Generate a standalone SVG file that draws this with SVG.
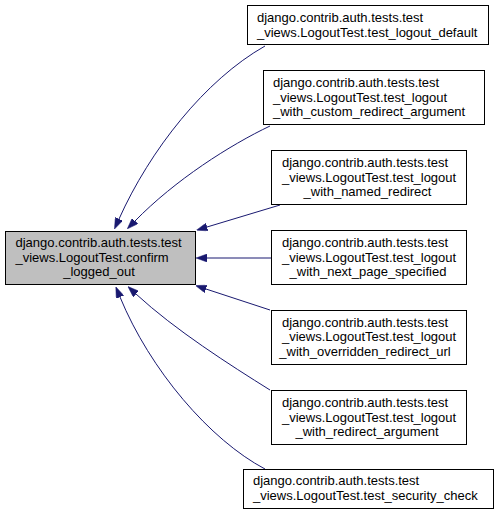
<svg xmlns="http://www.w3.org/2000/svg" width="499" height="516" viewBox="0 0 499 516">
<style>
.box{fill:#ffffff;stroke:#000000;stroke-width:1}
.main{fill:#bfbfbf;stroke:#000000;stroke-width:1}
text{font-family:"Liberation Sans",Arial,sans-serif;font-size:13px;fill:#000000}
.m{text-anchor:middle}
.edge{fill:none;stroke:#191970;stroke-width:1}
</style>
<defs>
<marker id="ah" viewBox="0 0 11 8" refX="0" refY="4" markerWidth="11" markerHeight="8" markerUnits="userSpaceOnUse" orient="auto">
<path d="M0,0 L11,4 L0,8 z" fill="#191970" stroke="#191970" stroke-width="0.5"/>
</marker>
</defs>
<rect width="499" height="516" fill="#ffffff"/>
<g id="connectors">
<path class="edge" marker-end="url(#ah)" d="M265,46 C205,80 150,150 119,219"/>
<path class="edge" marker-end="url(#ah)" d="M270,126 C230,145 175,180 135,221"/>
<path class="edge" marker-end="url(#ah)" d="M280,205 L207,227"/>
<path class="edge" marker-end="url(#ah)" d="M271,258 L207,258"/>
<path class="edge" marker-end="url(#ah)" d="M270,310 L206,289"/>
<path class="edge" marker-end="url(#ah)" d="M270,390 C230,365 175,330 136,294"/>
<path class="edge" marker-end="url(#ah)" d="M265,469 C210,440 150,370 120,297"/>
</g>
<g id="node_main">
<rect class="main" x="5.5" y="231.5" width="190" height="53"/>
<text x="15.5" y="247">django.contrib.auth.tests.test</text>
<text x="15.5" y="261.5">_views.LogoutTest.confirm</text>
<text class="m" x="99" y="276">_logged_out</text>
</g>
<g id="node_logout_default">
<rect class="box" x="247.5" y="5.5" width="241" height="39"/>
<text x="257" y="22">django.contrib.auth.tests.test</text>
<text x="257" y="36.5">_views.LogoutTest.test_logout_default</text>
</g>
<g id="node_custom_redirect">
<rect class="box" x="263.5" y="70.5" width="221" height="54"/>
<text x="273" y="87">django.contrib.auth.tests.test</text>
<text x="273" y="101.5">_views.LogoutTest.test_logout</text>
<text x="273" y="116">_with_custom_redirect_argument</text>
</g>
<g id="node_named_redirect">
<rect class="box" x="271.5" y="150.5" width="195" height="54"/>
<text x="282" y="167">django.contrib.auth.tests.test</text>
<text x="282" y="181.5">_views.LogoutTest.test_logout</text>
<text class="m" x="367.5" y="196">_with_named_redirect</text>
</g>
<g id="node_next_page">
<rect class="box" x="271.5" y="230.5" width="195" height="54"/>
<text x="282" y="247">django.contrib.auth.tests.test</text>
<text x="282" y="261.5">_views.LogoutTest.test_logout</text>
<text class="m" x="368" y="276">_with_next_page_specified</text>
</g>
<g id="node_overridden">
<rect class="box" x="271.5" y="310.5" width="195" height="54"/>
<text x="282" y="326.5">django.contrib.auth.tests.test</text>
<text x="282" y="341">_views.LogoutTest.test_logout</text>
<text class="m" x="365" y="355.5">_with_overridden_redirect_url</text>
</g>
<g id="node_redirect_argument">
<rect class="box" x="271.5" y="390.5" width="195" height="54"/>
<text x="282" y="407">django.contrib.auth.tests.test</text>
<text x="282" y="421.5">_views.LogoutTest.test_logout</text>
<text class="m" x="367" y="436">_with_redirect_argument</text>
</g>
<g id="node_security_check">
<rect class="box" x="243.5" y="469.5" width="250" height="39"/>
<text x="253" y="485">django.contrib.auth.tests.test</text>
<text x="253" y="499.5">_views.LogoutTest.test_security_check</text>
</g>
</svg>
